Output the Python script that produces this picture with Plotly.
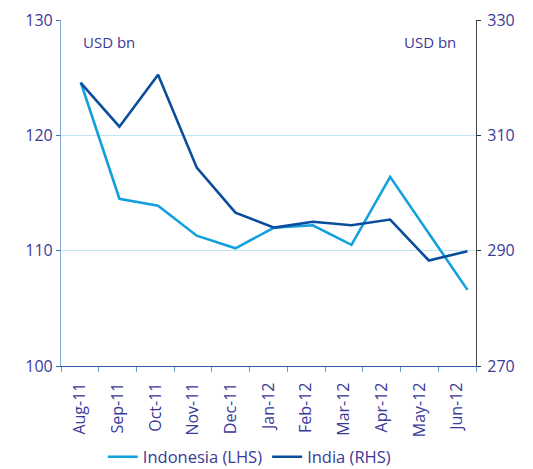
import plotly.graph_objects as go

months = ["Aug-11", "Sep-11", "Oct-11", "Nov-11", "Dec-11", "Jan-12",
          "Feb-12", "Mar-12", "Apr-12", "May-12", "Jun-12"]
indonesia = [124.6, 114.5, 113.9, 111.3, 110.2, 112.0, 112.2, 110.5, 116.4, 111.5, 106.6]
india = [319.1, 311.5, 320.5, 304.4, 296.6, 294.0, 295.0, 294.4, 295.4, 288.3, 289.9]

TXT = "#3A3A98"
FONT = "Open Sans"

fig = go.Figure()
# transparent carrier trace so the labelled category axis is drawn
fig.add_trace(go.Scatter(x=months, y=indonesia, mode="lines", opacity=0,
                         line=dict(width=0), showlegend=False, hoverinfo="skip",
                         xaxis="x", yaxis="y"))
fig.add_trace(go.Scatter(x=months, y=indonesia, name="Indonesia (LHS)", mode="lines",
                         line=dict(color="#12A0DE", width=2.6), xaxis="x2", yaxis="y"))
fig.add_trace(go.Scatter(x=months, y=india, name="India (RHS)", mode="lines",
                         line=dict(color="#0B4D9D", width=2.6), xaxis="x2", yaxis="y2"))

fig.update_layout(
    width=525, height=461,
    margin=dict(l=53, r=57, t=12, b=103, autoexpand=False),
    paper_bgcolor="white", plot_bgcolor="white",
    font=dict(family=FONT, color=TXT, size=16),
    showlegend=True,
    legend=dict(orientation="h", x=0.455, xanchor="center",
                yref="container", y=0.026, yanchor="middle",
                font=dict(size=16.5, color=TXT), tracegroupgap=0),
    xaxis=dict(type="category", categoryarray=months, categoryorder="array",
               range=[-0.5, 10.5], showgrid=False, showline=True,
               linecolor="#2A62B0", linewidth=1.2, ticks="outside", ticklen=5,
               tickcolor="#6C95C8", tickson="boundaries", tickangle=-90,
               ticklabelstandoff=9,
               tickfont=dict(size=16, color=TXT), zeroline=False, automargin=False),
    xaxis2=dict(type="category", categoryarray=months, categoryorder="array",
                range=[-0.51, 10.22], overlaying="x", visible=False,
                showgrid=False, zeroline=False),
    yaxis=dict(range=[100, 130], dtick=10, showgrid=True, gridcolor="#BFE6F5",
               gridwidth=1, showline=True, linecolor="#7FA6D6", linewidth=1.2,
               ticks="outside", ticklen=4, tickcolor="#3A6FB8",
               tickfont=dict(size=16, color=TXT), zeroline=False, automargin=False),
    yaxis2=dict(range=[270, 330], tick0=270, dtick=20, overlaying="y", side="right",
                showgrid=False, showline=True, linecolor="#444444", linewidth=1.2,
                ticks="outside", ticklen=4, tickcolor="#333333", ticklabelstandoff=3,
                tickfont=dict(size=16, color=TXT), zeroline=False, automargin=False),
    annotations=[
        dict(text="USD bn", xref="paper", yref="paper", x=0.048, y=0.936,
             xanchor="left", yanchor="middle", showarrow=False,
             font=dict(size=15, color=TXT)),
        dict(text="USD bn", xref="paper", yref="paper", x=0.957, y=0.936,
             xanchor="right", yanchor="middle", showarrow=False,
             font=dict(size=15, color=TXT)),
    ],
)

fig.write_html("out.html")
